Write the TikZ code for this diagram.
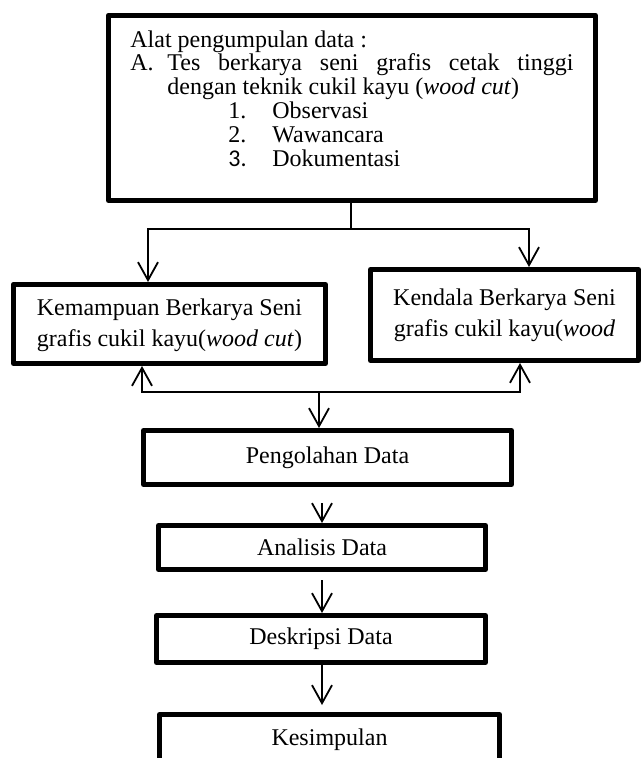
\documentclass[tikz,border=0pt]{standalone}
\usepackage{fontspec}
\setmainfont{Liberation Serif}
\newfontfamily\carlito{Carlito}
\usepackage{tikz}
\usetikzlibrary{positioning, arrows.meta, calc}

\begin{document}
\begin{tikzpicture}[x=0.5pt, y=-0.5pt,
    kotak/.style={draw, rectangle, line width=2.4pt, line join=round, inner sep=0pt, align=center, font=\fontsize{12}{15.5}\selectfont},
    garis/.style={line width=0.9pt},
    panah/.style={line width=0.9pt, -{Straight Barb[length=9pt, width=10pt]}}]

    % Fix the page size
    \useasboundingbox (0,0) rectangle (643,758);
    \clip (0,0) rectangle (643,758);

    % Top box with the list of data tools
    \node[kotak, minimum width=243.6pt, minimum height=92.6pt] (alat) at (352,108) {};
    \node[anchor=north west, inner sep=0pt, align=left, font=\fontsize{12}{11.9}\selectfont] (isialat) at (130,30)
        {Alat pengumpulan data :\\
         \makebox[18.5pt][l]{A.}\makebox[203pt][s]{Tes berkarya seni grafis cetak tinggi}\\
         \hspace*{18.5pt}dengan teknik cukil kayu (\textit{wood cut})\\
         \hspace*{49pt}\makebox[22pt][l]{1.}Observasi\\
         \hspace*{49pt}\makebox[22pt][l]{2.}Wawancara\\
         \hspace*{49pt}\makebox[22pt][l]{\carlito 3.}Dokumentasi};

    % The two boxes in the middle
    \node[kotak, minimum width=156.1pt, minimum height=39.6pt] (kemampuan) at (169.5,324)
        {\rule{0pt}{10pt}Kemampuan Berkarya Seni\\grafis cukil kayu(\textit{wood cut})};
    \node[kotak, minimum width=134.1pt, minimum height=45.6pt] (kendala) at (504.5,315)
        {Kendala Berkarya Seni\\grafis cukil kayu(\textit{wood}};

    % The chain of steps below
    \node[kotak, minimum width=184.1pt, minimum height=27.1pt] (pengolahan) at (327.5,457.5) {Pengolahan Data};
    \node[kotak, minimum width=163.6pt, minimum height=22.1pt] (analisis) at (322,547.5) {Analisis Data};
    \node[kotak, minimum width=164.6pt, minimum height=23.6pt] (deskripsi) at (321,639) {Deskripsi Data};
    \node[kotak, minimum width=170.1pt, minimum height=25.6pt] (kesimpulan) at (329.5,740) {Kesimpulan};

    % Points where the lines split and join
    \coordinate (cabang) at (351,229);
    \coordinate (cabangkiri) at (148,229);
    \coordinate (cabangkanan) at (529,229);
    \coordinate (gabung) at (319,392);
    \coordinate (gabungkiri) at (142,392);
    \coordinate (gabungkanan) at (520,392);

    % Split from the top box
    \draw[garis] (alat.south -| cabang) -- (cabang);
    \draw[panah] (cabang) -- (cabangkiri) -- (cabangkiri |- kemampuan.north);
    \draw[panah] (cabang) -- (cabangkanan) -- (cabangkanan |- kendala.north);

    % Join under the middle boxes
    \draw[panah] (gabung) -- (gabungkiri) -- (gabungkiri |- kemampuan.south);
    \draw[panah] (gabung) -- (gabungkanan) -- (gabungkanan |- kendala.south);
    \draw[panah] (gabung) -- (gabung |- pengolahan.north);

    % Steps
    \draw[panah, shorten <=8pt] (analisis.north |- pengolahan.south) -- (analisis.north);
    \draw[panah, shorten <=4pt] (analisis.south) -- (analisis.south |- deskripsi.north);
    \draw[panah, shorten >=3.5pt] (analisis.south |- deskripsi.south) -- (analisis.south |- kesimpulan.north);

\end{tikzpicture}
\end{document}
